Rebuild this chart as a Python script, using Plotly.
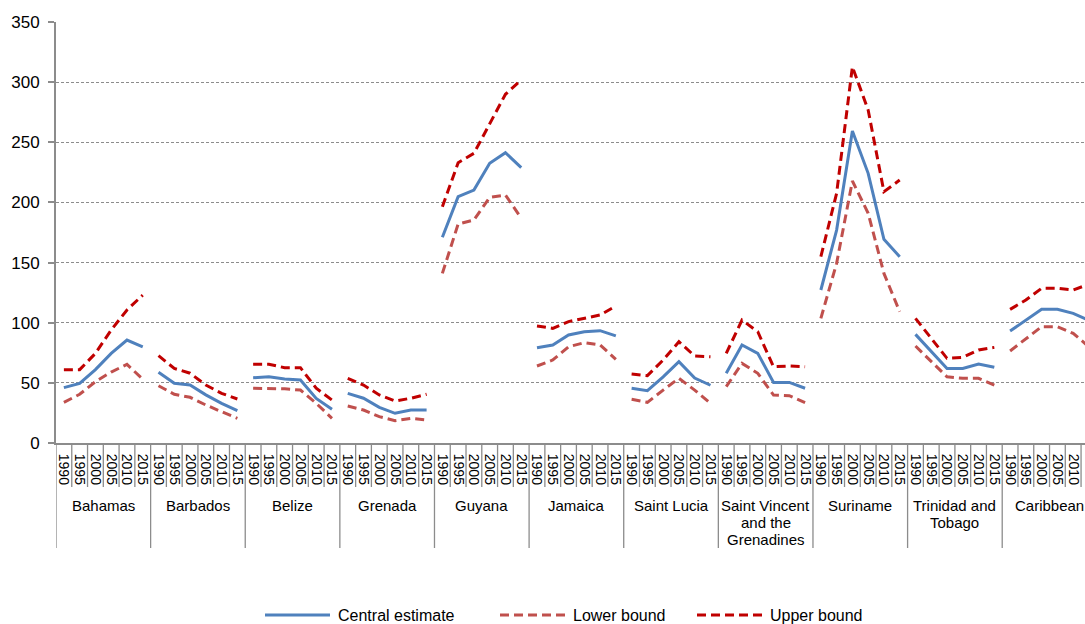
import plotly.graph_objects as go

years = [1990, 1995, 2000, 2005, 2010, 2015]
countries = ["Bahamas", "Barbados", "Belize", "Grenada", "Guyana", "Jamaica",
             "Saint Lucia", "Saint Vincent<br>and the<br>Grenadines", "Suriname",
             "Trinidad and<br>Tobago", "Caribbean"]

central = [46, 49.6, 61, 74.5, 85.6, 80,
           58.8, 49.6, 48.2, 40, 33, 26.9,
           54.3, 55, 53.2, 52.4, 37, 28,
           41.3, 37.2, 29.6, 24.7, 27.4, 27.4,
           171, 204.8, 210.3, 232.5, 241.3, 228.9,
           79.2, 81.5, 89.8, 92.5, 93.4, 89,
           45.5, 43.5, 55, 67.6, 54, 48,
           57.9, 81.5, 74.5, 50.4, 50.4, 45.5,
           127.2, 177, 259.4, 224.2, 169.3, 154.9,
           90.3, 75.9, 62, 62, 65.7, 62.9,
           93.1, 102.2, 111.1, 111.1, 107.8, 102]

lower = [33.8, 40.5, 51, 59, 65.4, 53,
         47.6, 40.5, 38, 31.6, 26, 20.5,
         45.5, 45.5, 45, 44, 33, 20.5,
         30.8, 27.4, 21.9, 18.6, 20.5, 19.1,
         141, 182, 185.4, 204.2, 206.2, 187,
         64, 69, 80, 83.4, 81.5, 69.6,
         36.3, 33.8, 44, 53.8, 44, 33,
         46.8, 66.2, 57.9, 39.9, 39.3, 33.5,
         103.6, 149.4, 217.8, 191, 141, 109.2,
         80.6, 68.2, 55, 53.8, 53.8, 48.2,
         76.5, 87, 96.7, 96.7, 91.2, 80]

upper = [61, 61, 74.5, 94, 110.6, 123,
         72.6, 62, 58, 48.2, 41.3, 36.6,
         65.4, 65.4, 62.6, 62.6, 45.5, 35.7,
         53.8, 48.2, 39.9, 34.9, 37.2, 40.5,
         196.4, 233, 240.8, 265.8, 289.9, 301.8,
         97.3, 95.3, 100.9, 103.6, 106.4, 113.9,
         57.4, 56, 69, 84.2, 72.3, 71.7,
         74.5, 102.2, 92.5, 63.4, 64, 63.4,
         154.9, 207.6, 312.8, 276.8, 208.9, 218.6,
         103.6, 87, 70.4, 71.2, 77.3, 79.5,
         111.1, 118.9, 128.6, 128.6, 127.2, 132]

series_names = ["Central estimate", "Lower bound", "Upper bound"]
series_colors = ["#4F81BD", "#C0504D", "#C00000"]
series_dash = ["solid", "9px,5px", "9px,5px"]

W, H = 1085, 624
SX0, SX1 = 56, 1085      # plot area left/right (page pixels)
SY0, SY1 = 22, 443       # plot area top/bottom (page pixels)
L = SX0
T = SY0
R = W - SX1
B = H - SY1
PW = SX1 - SX0
PH = SY1 - SY0
FONT = "Liberation Sans, Arial, sans-serif"

ny = len(years)
n = len(countries) * ny


def gapped(vals):
    xs, ys = [], []
    for g in range(len(countries)):
        for j in range(ny):
            xs.append(g * ny + j)
            ys.append(vals[g * ny + j])
        xs.append(None)
        ys.append(None)
    return xs, ys


fig = go.Figure()
for name, vals, col, dash in zip(series_names, [central, lower, upper], series_colors, series_dash):
    xs, ys = gapped(vals)
    fig.add_trace(go.Scatter(x=xs, y=ys, mode="lines", name=name, connectgaps=False,
                             line=dict(color=col, width=3, dash=dash), showlegend=False))


def px2x(p):
    return (p - SX0) / PW


def py2y(p):
    return (SY1 - p) / PH


shapes = []
annotations = []
for k in range(n + 1):
    xv = k - 0.5
    bottom = 548 if k % ny == 0 else 487
    shapes.append(dict(type="line", xref="x", yref="paper", x0=xv, x1=xv,
                       y0=0, y1=py2y(bottom), line=dict(color="#8C8C8C", width=1.3)))
for g, c in enumerate(countries):
    for i, part in enumerate(c.split("<br>")):
        annotations.append(dict(x=g * ny + 2.5, xref="x", y=py2y(505 + 17 * i), yref="paper",
                                text=part, showarrow=False, xanchor="center", yanchor="middle",
                                font=dict(family=FONT, size=15, color="#000")))

leg_y = py2y(615)
leg_items = [(265, 330, 336), (500, 565, 571), (697, 762, 768)]
for (x0, x1, xt), name, col, dash in zip(leg_items, series_names, series_colors, series_dash):
    shapes.append(dict(type="line", xref="paper", yref="paper", x0=px2x(x0), x1=px2x(x1),
                       y0=leg_y, y1=leg_y, line=dict(color=col, width=3, dash=dash)))
    annotations.append(dict(x=px2x(xt), xref="paper", y=leg_y, yref="paper", text=name,
                            showarrow=False, xanchor="left", yanchor="middle",
                            font=dict(family=FONT, size=16, color="#000")))

fig.update_layout(
    width=W, height=H,
    margin=dict(l=L, r=R, t=T, b=B, pad=0),
    paper_bgcolor="white", plot_bgcolor="white",
    font=dict(family=FONT, size=16, color="#000"),
    shapes=shapes, annotations=annotations,
    showlegend=False,
)
fig.update_xaxes(range=[-0.5, 64.75], tickmode="array",
                 tickvals=list(range(n)), ticktext=[str(y) for _ in countries for y in years],
                 tickangle=90, tickfont=dict(family=FONT, size=14, color="#000"),
                 ticklabelstandoff=6,
                 showgrid=False, zeroline=False, showline=True, linecolor="#8C8C8C",
                 linewidth=2, ticks="", ticklen=0)
fig.update_yaxes(range=[0, 350], dtick=50, tick0=0, showgrid=True, gridcolor="#8C8C8C",
                 griddash="3px,2px", gridwidth=1, zeroline=False, showline=True,
                 linecolor="#8C8C8C", linewidth=2, ticks="outside", ticklen=6,
                 tickcolor="#8C8C8C", tickwidth=1.5, ticklabelstandoff=5,
                 tickfont=dict(family=FONT, size=17, color="#000"))

fig.write_html("out.html", config={"displayModeBar": False},
               post_script="document.body.style.margin='0';document.body.style.overflow='hidden';")
